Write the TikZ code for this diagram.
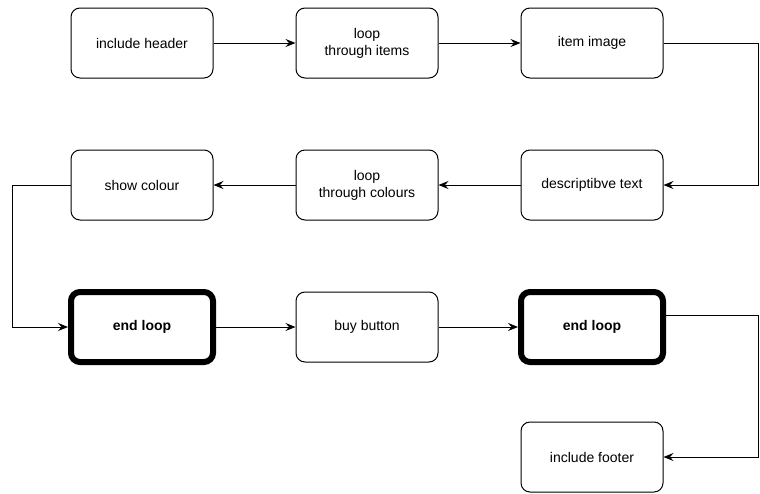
\documentclass[tikz,border=0pt]{standalone}
\usepackage{fontspec}
\setmainfont{Liberation Sans}
\usetikzlibrary{arrows.meta}
\begin{document}
\begin{tikzpicture}[x=1pt,y=-1pt,
  every node/.style={font=\fontsize{14}{17}\selectfont},
  stepbox/.style={draw=black,line width=1pt,rounded corners=9pt,minimum width=142pt,minimum height=70pt,align=center,inner sep=0pt,fill=white},
  loopend/.style={stepbox,line width=6pt,font=\fontsize{14}{17}\selectfont\bfseries},
  link/.style={draw=black,line width=1pt,-{Stealth[length=10pt,width=8pt,inset=3.5pt]}}]
\useasboundingbox (0,0) rectangle (760,493);
% row 1
\node[stepbox] (hdr) at (142,43) {include header};
\node[stepbox] (items) at (367,43) {loop\\through items};
\node[stepbox] (img) at (592,43) {item image};
% row 2
\node[stepbox] (desc) at (592,185) {descriptibve text};
\node[stepbox] (colours) at (367,185) {loop\\through colours};
\node[stepbox] (show) at (142,185) {show colour};
% row 3
\node[loopend] (end1) at (142,327) {end loop};
\node[stepbox] (buy) at (367,327) {buy button};
\node[loopend] (end2) at (592,327) {end loop};
% row 4
\node[stepbox] (ftr) at (592,457) {include footer};
% connectors
\draw[link] (hdr) -- (items);
\draw[link] (items) -- (img);
\draw[link] (img.east) -- (758,43) |- (desc.east);
\draw[link] (desc) -- (colours);
\draw[link] (colours) -- (show);
\draw[link] (show.west) -- (12,185) |- (end1.west);
\draw[link] (end1.east) -- (buy);
\draw[link] (buy) -- (end2.west);
\draw[link] (end2.east) ++(0,-12) -- (758,315) |- (ftr.east);
\end{tikzpicture}
\end{document}
